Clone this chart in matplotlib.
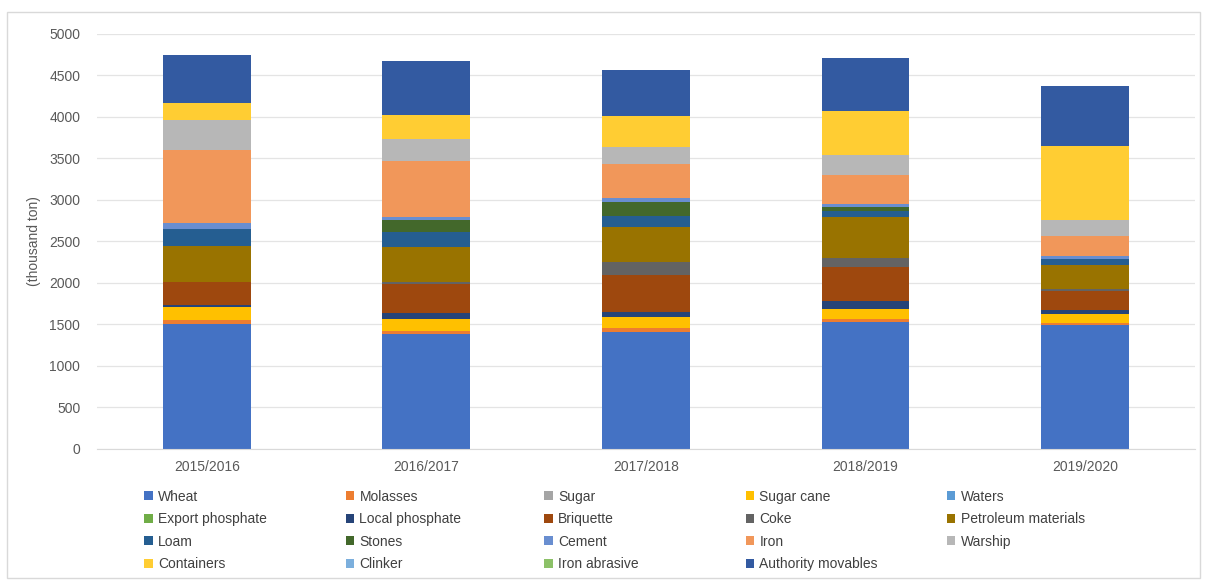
import numpy as np
import matplotlib.pyplot as plt
from matplotlib.patches import Patch, Rectangle

# seasons on the x axis
years = ['2015/2016', '2016/2017', '2017/2018', '2018/2019', '2019/2020']

# handled tonnage per commodity (thousand ton), bottom to top of each stack
wheat = [1506, 1382, 1413, 1534, 1494]
molasses = [48, 40, 48, 32, 20]
sugar = [0, 0, 0, 0, 0]
sugar_cane = [160, 144, 129, 121, 113]
waters = [0, 0, 0, 0, 0]
export_phosphate = [0, 0, 0, 0, 0]
local_phosphate = [21, 69, 57, 100, 48]
briquette = [273, 349, 449, 409, 232]
coke = [0, 30, 153, 102, 17]
petroleum = [441, 421, 429, 494, 293]
loam = [202, 181, 129, 75, 69]
stones = [0, 141, 172, 45, 0]
cement = [68, 40, 41, 40, 39]
iron = [883, 674, 414, 349, 241]
warship = [362, 262, 201, 241, 193]
containers = [208, 289, 377, 530, 892]
clinker = [0, 0, 0, 0, 0]
iron_abrasive = [0, 0, 0, 0, 0]
authority = [575, 654, 554, 635, 723]

labels = ['Wheat', 'Molasses', 'Sugar', 'Sugar cane', 'Waters',
          'Export phosphate', 'Local phosphate', 'Briquette', 'Coke',
          'Petroleum materials', 'Loam', 'Stones', 'Cement', 'Iron',
          'Warship', 'Containers', 'Clinker', 'Iron abrasive',
          'Authority movables']
values = [wheat, molasses, sugar, sugar_cane, waters, export_phosphate,
          local_phosphate, briquette, coke, petroleum, loam, stones, cement,
          iron, warship, containers, clinker, iron_abrasive, authority]

# office palette
colors = ['#4472C4', '#ED7D31', '#A5A5A5', '#FFC000', '#5B9BD5', '#70AD47',
          '#264478', '#9E480E', '#636363', '#997300', '#255E91', '#43682B',
          '#698ED0', '#F1975A', '#B7B7B7', '#FFCD33', '#7CAFDD', '#8CC168',
          '#335AA1']

plt.rcParams['font.family'] = ['Liberation Sans', 'DejaVu Sans']

fig = plt.figure(figsize=(12.05, 5.8), dpi=100)
ax = fig.add_axes([0.0805, 0.2259, 0.911, 0.7155])

x = np.arange(len(years))
bottom = np.zeros(len(years))
for lab, v, c in zip(labels, values, colors):
    ax.bar(x, v, width=0.4, bottom=bottom, color=c, label=lab, zorder=2)
    bottom += np.array(v)

ax.set_xlim(-0.5, len(years) - 0.5)
ax.set_ylim(0, 5000)
ax.set_yticks(range(0, 5001, 500))
ax.set_xticks(x)
ax.set_xticklabels(years)
ax.yaxis.grid(True, color='#e4e4e4', linewidth=0.9, zorder=0)
ax.tick_params(length=0, labelsize=10, colors='#595959')
ax.tick_params(axis='y', pad=12)
ax.tick_params(axis='x', pad=8)
for s in ['top', 'right', 'left']:
    ax.spines[s].set_visible(False)
ax.spines['bottom'].set_color('#d9d9d9')
ax.set_ylabel('(thousand ton)', fontsize=10, color='#595959', labelpad=6)

# legend laid out row by row in five columns
col_x = [0.114, 0.281, 0.446, 0.613, 0.780]
for c in range(5):
    idx = [r * 5 + c for r in range(4) if r * 5 + c < len(labels)]
    handles = [Patch(facecolor=colors[i], label=labels[i]) for i in idx]
    fig.legend(handles=handles, loc='upper left',
               bbox_to_anchor=(col_x[c], 0.168), frameon=False,
               fontsize=10, handlelength=0.6, handleheight=0.6,
               handletextpad=0.4, labelspacing=0.62, borderpad=0,
               labelcolor='#404040')

# thin frame round the chart
fig.patches.append(Rectangle((0.006, 0.004), 0.99, 0.975,
                             transform=fig.transFigure, fill=False,
                             edgecolor='#d9d9d9', linewidth=1))

fig.savefig('out.png', dpi=100)
